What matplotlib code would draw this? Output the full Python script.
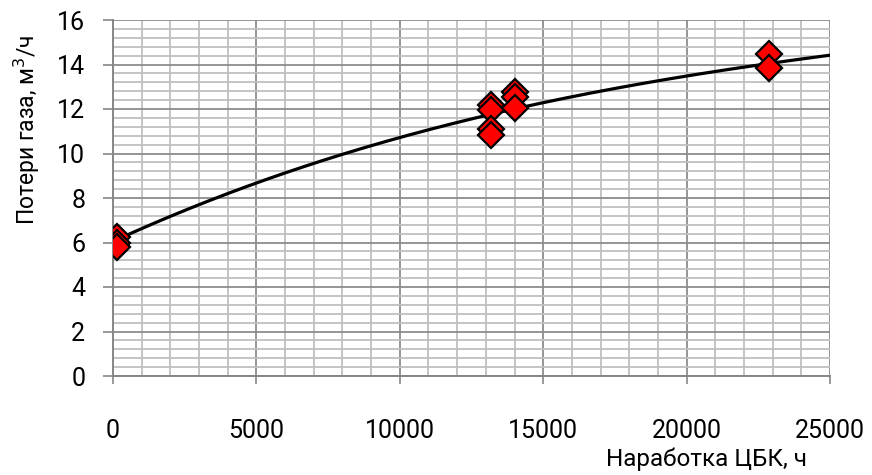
import numpy as np
import matplotlib
matplotlib.use("Agg")
import matplotlib.pyplot as plt
from matplotlib.ticker import MultipleLocator

# Data
runtime_h = [150, 150, 150, 13170, 13170, 13170, 13170, 14020, 14020, 14020, 22880, 22880]
gas_loss = [6.25, 6.0, 5.8, 12.18, 11.96, 11.09, 10.83, 12.78, 12.55, 12.03, 14.48, 13.84]

# Trend line
trend_x = [0, 2500, 5000, 7500, 10000, 12500, 15000, 17500, 20000, 22500, 25000]
trend_y = [6.05, 7.42, 8.71, 9.75, 10.73, 11.53, 12.28, 12.92, 13.5, 13.98, 14.41]

x_ticks = [0, 5000, 10000, 15000, 20000, 25000]
y_ticks = [0, 2, 4, 6, 8, 10, 12, 14, 16]

plt.rcParams['font.family'] = ['Roboto', 'DejaVu Sans']

fig = plt.figure(figsize=(8.72, 4.75), dpi=100)
ax = fig.add_axes([113/872, 1-376/475, (830-113)/872, (376-20)/475])

# smooth trend through read points
coef = np.polyfit(trend_x, trend_y, 3)
xs = np.linspace(0, 25000, 300)
ax.plot(xs, np.polyval(coef, xs), color='black', lw=2.3, zorder=3)

ax.plot(runtime_h, gas_loss, linestyle='none', marker='D', ms=13.5,
        mfc='#ff0000', mec='black', mew=1.6, zorder=4)

ax.set_xlim(0, 25000)
ax.set_ylim(0, 16)
ax.set_xticks(x_ticks)
ax.set_yticks(y_ticks)
ax.xaxis.set_minor_locator(MultipleLocator(1000))
ax.yaxis.set_minor_locator(MultipleLocator(0.4))

ax.grid(which='minor', color='#bfbfbf', lw=1.3, zorder=0)
ax.grid(which='major', color='#8c8c8c', lw=1.3, zorder=1)
ax.set_axisbelow(True)

for s in ['top', 'right']:
    ax.spines[s].set_visible(False)
for s in ['left', 'bottom']:
    ax.spines[s].set_color('#868686')
    ax.spines[s].set_linewidth(1.4)

ax.tick_params(axis='both', which='minor', length=0)
ax.tick_params(axis='x', which='major', length=6, width=1.2, color='#868686',
               direction='out', pad=25, labelsize=18)
ax.tick_params(axis='y', which='major', length=7, width=1.2, color='#868686',
               direction='out', pad=13, labelsize=18)

fig.text(706/872, 1-459/475, 'Наработка ЦБК, ч', ha='center', va='center', fontsize=17.5)
fig.text(27/872, 1-130/475, 'Потери газа, м$^3$/ч', ha='center', va='center',
         rotation=90, fontsize=16.5)

fig.savefig('out.png', dpi=100)
